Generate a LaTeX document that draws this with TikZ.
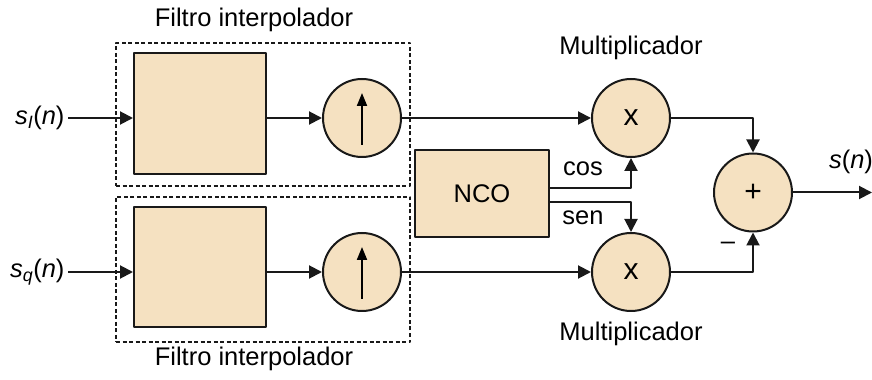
\documentclass[tikz,border=0pt]{standalone}
\usepackage{fontspec}
\setmainfont{Liberation Sans}
\usetikzlibrary{calc}
\usetikzlibrary{arrows.meta}
\usetikzlibrary{shapes}

\definecolor{fillcol}{RGB}{245,225,193}
\definecolor{strokecol}{rgb}{0.1,0.1,0.1}

\begin{document}
\begin{tikzpicture}[>={Triangle[length=13bp,width=13bp]},line join=bevel,
    every node/.style={font=\fontsize{25.5bp}{30bp}\selectfont},
    block/.style={draw=strokecol,fill=fillcol,line width=2bp,inner sep=0pt},
    ring/.style={circle,draw=strokecol,fill=fillcol,line width=2bp,minimum size=78bp,inner sep=0pt},
    dashbox/.style={draw=strokecol,dashed,line width=1.5bp,dash pattern=on 4bp off 2.5bp,inner sep=0pt},
    wire/.style={->,draw=strokecol,line width=2bp}]
    \useasboundingbox (0bp,0bp) rectangle (872bp,380bp);
    %%
    % Node: dashed frames
    \node[dashbox,minimum width=294bp,minimum height=143bp] (boxI) at (263bp,265.5bp) {};
    \node[dashbox,minimum width=294bp,minimum height=145bp] (boxQ) at (263bp,110.5bp) {};
    \node (titI) at (254bp,360bp) {Filtro interpolador};
    \node (titQ) at (254bp,21bp) {Filtro interpolador};
    % Node: filters
    \node[block,minimum width=132bp,minimum height=121bp] (filtI) at (200bp,266.5bp) {};
    \node[block,minimum width=132bp,minimum height=120bp] (filtQ) at (200bp,113bp) {};
    % Node: upsamplers
    \node[ring] (upI) at (362bp,262bp) {};
    \node[ring] (upQ) at (362bp,108bp) {};
    \draw[->,line width=2bp,>={Triangle[length=13bp,width=10bp]}] ($(upI)+(0,-27bp)$) -- ($(upI)+(0,25bp)$);
    \draw[->,line width=2bp,>={Triangle[length=13bp,width=10bp]}] ($(upQ)+(0,-27bp)$) -- ($(upQ)+(0,25bp)$);
    % Node: multipliers
    \node[ring,font=\fontsize{30bp}{34bp}\selectfont] (mulI) at (631bp,262bp) {x};
    \node[ring,font=\fontsize{30bp}{34bp}\selectfont] (mulQ) at (631bp,108bp) {x};
    \node (labI) at (631bp,332bp) {Multiplicador};
    \node (labQ) at (631bp,46bp) {Multiplicador};
    % Node: NCO
    \node[block,minimum width=134bp,minimum height=87bp] (nco) at (482bp,186.5bp) {NCO};
    % Node: adder
    \node[ring,font=\fontsize{30bp}{34bp}\selectfont] (sum) at (753bp,187.5bp) {+};
    \node (minus) at (728bp,134bp) {--};
    % Node: signals
    \node[anchor=east] (inI) at (68bp,262bp) {\textit{s}\textsubscript{\textit{I}}(\textit{n})};
    \node[anchor=east] (inQ) at (68bp,108bp) {\textit{s}\textsubscript{\textit{q}}(\textit{n})};
    \node (out) at (851bp,218bp) {\textit{s}(\textit{n})};
    \coordinate (end) at (872bp,187.5bp);
    %%
    % Edge: inI -> filtI -> upI -> mulI
    \draw[wire] (inI.east) -- (inI.east -| filtI.west);
    \draw[wire] (upI.west -| filtI.east) -- (upI.west);
    \draw[wire] (upI.east) -- (mulI.west);
    % Edge: inQ -> filtQ -> upQ -> mulQ
    \draw[wire] (inQ.east) -- (inQ.east -| filtQ.west);
    \draw[wire] (upQ.west -| filtQ.east) -- (upQ.west);
    \draw[wire] (upQ.east) -- (mulQ.west);
    % Edge: nco -> mulI, nco -> mulQ
    \draw[wire] ($(nco.east)+(0,5.5bp)$) -| (mulI.south);
    \draw[wire] ($(nco.east)+(0,-8.5bp)$) -| (mulQ.north);
    \node (cos) at (583bp,211bp) {cos};
    \node (sen) at (583bp,162bp) {sen};
    % Edge: mulI -> sum, mulQ -> sum
    \draw[wire] (mulI.east) -| (sum.north);
    \draw[wire] (mulQ.east) -| (sum.south);
    % Edge: sum -> out
    \draw[wire] (sum.east) -- (end);
    %
\end{tikzpicture}
\end{document}
